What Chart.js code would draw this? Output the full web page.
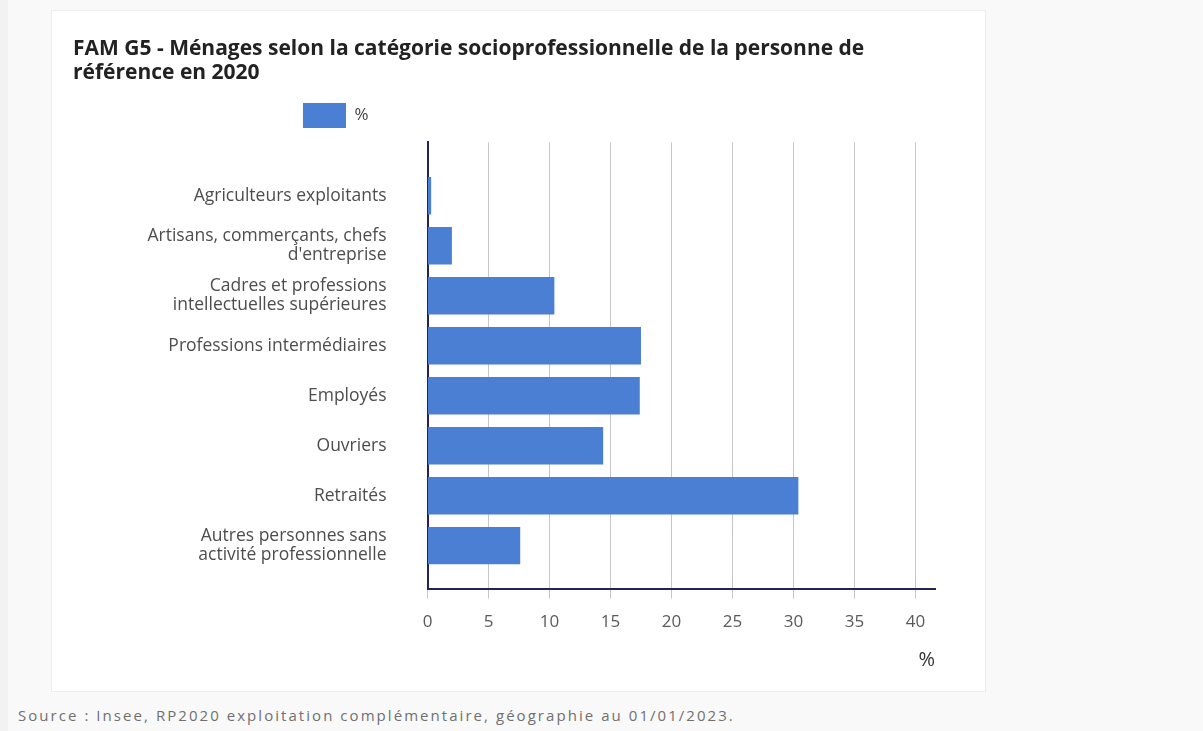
<!DOCTYPE html>
<html lang="fr">
<head>
<meta charset="utf-8">
<title>FAM G5 - Ménages selon la catégorie socioprofessionnelle</title>
<script src="https://cdn.jsdelivr.net/npm/chart.js@4.4.1/dist/chart.umd.min.js"></script>
<style>
  html, body { margin: 0; padding: 0; }
  body {
    width: 1203px; height: 731px; position: relative; overflow: hidden;
    background: #f2f2f2; font-family: 'Open Sans', sans-serif;
  }
  .panel { position: absolute; left: 8px; top: 0; width: 1195px; height: 731px; background: #f9f9f9; }
  .card {
    position: absolute; left: 52px; top: 11px; width: 933px; height: 680px;
    background: #fff; box-shadow: 0 0 0 1px #ececec;
  }
  .source {
    position: absolute; left: 18px; top: 705px;
    font-size: 15px; letter-spacing: 2.05px; color: #707070;
  }
</style>
</head>
<body>
<div class="panel"></div>
<div class="card"><canvas id="chartFamG5" width="933" height="680"></canvas></div>
<div class="source">Source : Insee, RP2020 exploitation complémentaire, géographie au 01/01/2023.</div>

<script>
// catégories socioprofessionnelles (libellés sur deux lignes si besoin)
const categories = [
    ['Agriculteurs exploitants'],
    ['Artisans, commerçants, chefs', "d'entreprise"],
    ['Cadres et professions', 'intellectuelles supérieures'],
    ['Professions intermédiaires'],
    ['Employés'],
    ['Ouvriers'],
    ['Retraités'],
    ['Autres personnes sans', 'activité professionnelle']
];
// part des ménages, en %
const shares = [0.3, 2.0, 10.4, 17.5, 17.4, 14.4, 30.4, 7.6];
const xTicks = [0, 5, 10, 15, 20, 25, 30, 35, 40];

const barColor = '#4a7fd3';
const axisColor = '#23235b';
const gridColor = '#c6c6c6';

Chart.defaults.font.family = "'Open Sans', sans-serif";

// la légende est posée au-dessus des libellés, pas centrée sur le canvas
const legendBox = { x: 251, y: 92 };
const legendOffset = {
    id: 'legendOffset',
    afterLayout(chart) {
        const legend = chart.legend;
        const p = legend.options.labels.padding;
        const w = legend.width;
        const h = legend.height;
        legend.left = legendBox.x - p;
        legend.right = legend.left + w;
        legend.top = legendBox.y - p;
        legend.bottom = legend.top + h;
    }
};

function initFamG5Chart(canvasId) {
    const ctx = document.getElementById(canvasId).getContext('2d');

    new Chart(ctx, {
        type: 'bar',
        data: {
            datasets: [{
                label: '%',
                data: shares.map((v, i) => ({ x: v, y: i })),
                backgroundColor: barColor,
                barPercentage: 0.75,
                categoryPercentage: 1
            }]
        },
        options: {
            indexAxis: 'y',
            responsive: false,
            animation: false,
            layout: {
                padding: { left: 21, right: 50, top: 0, bottom: 11 }
            },
            plugins: {
                title: {
                    display: true,
                    align: 'start',
                    text: ['FAM G5 - Ménages selon la catégorie socioprofessionnelle de la personne de', 'référence en 2020'],
                    color: '#222',
                    font: { size: 21, weight: 'bold', lineHeight: 1.15 },
                    padding: { top: 26, bottom: 8 }
                },
                legend: {
                    align: 'start',
                    labels: {
                        boxWidth: 43,
                        boxHeight: 25,
                        padding: 14,
                        color: '#444',
                        font: { size: 17 }
                    }
                },
                tooltip: { enabled: false }
            },
            scales: {
                x: {
                    min: 0,
                    max: 41.6,
                    afterBuildTicks: (scale) => {
                        scale.ticks = xTicks.map(v => ({ value: v }));
                    },
                    grid: {
                        color: gridColor,
                        tickColor: gridColor,
                        tickLength: 10
                    },
                    border: { color: axisColor, width: 2 },
                    ticks: {
                        color: '#5a5a5a',
                        padding: 13,
                        font: { size: 17 }
                    },
                    title: {
                        display: true,
                        text: '%',
                        align: 'end',
                        color: '#333',
                        font: { size: 20 },
                        padding: { top: 3, bottom: 8 }
                    }
                },
                y: {
                    type: 'linear',
                    reverse: true,
                    offset: false,
                    min: -1.07,
                    max: 7.86,
                    afterBuildTicks: (scale) => {
                        scale.ticks = categories.map((c, i) => ({ value: i }));
                    },
                    afterFit: (scale) => {
                        scale.width = 354.5;
                    },
                    grid: { display: false, drawTicks: false },
                    border: { color: axisColor, width: 2 },
                    ticks: {
                        autoSkip: false,
                        callback: (value, index) => categories[index],
                        color: '#4d4d4d',
                        padding: 41,
                        font: { size: 17.5, lineHeight: 1.09 }
                    }
                }
            }
        },
        plugins: [legendOffset]
    });
}

document.addEventListener('DOMContentLoaded', function () {
    initFamG5Chart('chartFamG5');
});
</script>
</body>
</html>
